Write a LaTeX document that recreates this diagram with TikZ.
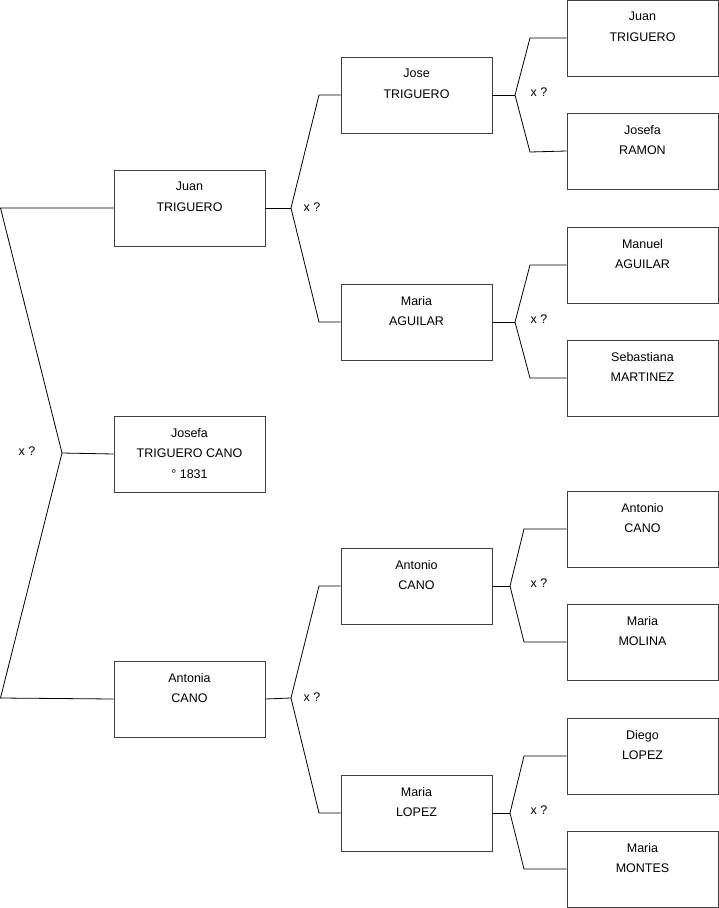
\documentclass[tikz,border=0pt]{standalone}
\usepackage{fontspec}
\setmainfont{Liberation Sans}
\begin{document}
\begin{tikzpicture}[x=1pt,y=-1pt,
  person/.style={draw=black!75,line width=0.9pt,rectangle,minimum width=151pt,minimum height=76pt,inner sep=0pt,
    label={[anchor=north,align=center,yshift=-12.5pt,inner sep=0pt,font=\fontsize{12.5}{20.5}\selectfont]north:#1}},
  conn/.style={draw=black,line width=0.8pt},
  xq/.style={font=\fontsize{12.5}{15}\selectfont,inner sep=0pt}]
\useasboundingbox (0,0) rectangle (719,908);
% column 1
\node[person={Juan\\TRIGUERO}] (c1a) at (189.5,208) {};
\node[person={Josefa\\TRIGUERO CANO\\° 1831}] (c1b) at (189.5,454) {};
\node[person={Antonia\\CANO}] (c1c) at (189.5,699) {};
% column 2
\node[person={Jose\\TRIGUERO}] (c2a) at (416.5,95) {};
\node[person={Maria\\AGUILAR}] (c2b) at (416.5,322) {};
\node[person={Antonio\\CANO}] (c2c) at (416.5,586) {};
\node[person={Maria\\LOPEZ}] (c2d) at (416.5,813) {};
% column 3
\node[person={Juan\\TRIGUERO}] (c3a) at (642.5,38) {};
\node[person={Josefa\\RAMON}] (c3b) at (642.5,151) {};
\node[person={Manuel\\AGUILAR}] (c3c) at (642.5,265) {};
\node[person={Sebastiana\\MARTINEZ}] (c3d) at (642.5,378) {};
\node[person={Antonio\\CANO}] (c3e) at (642.5,529) {};
\node[person={Maria\\MOLINA}] (c3f) at (642.5,642) {};
\node[person={Diego\\LOPEZ}] (c3g) at (642.5,756) {};
\node[person={Maria\\MONTES}] (c3h) at (642.5,869) {};
% fork coordinates
\coordinate (l1) at (0.5,208);
\coordinate (l2) at (62,453);
\coordinate (l3) at (0.5,698);
\coordinate (fa) at (291,208);
\coordinate (fa1) at (319,95);
\coordinate (fa2) at (319,322);
\coordinate (fc) at (291,698);
\coordinate (fc1) at (319,586);
\coordinate (fc2) at (319,813);
\coordinate (g1) at (515,95);
\coordinate (g11) at (530,38);
\coordinate (g12) at (530,152);
\coordinate (g2) at (515,322);
\coordinate (g21) at (530,265);
\coordinate (g22) at (530,378);
\coordinate (g3) at (510,586);
\coordinate (g31) at (524,529);
\coordinate (g32) at (524,642);
\coordinate (g4) at (510,813);
\coordinate (g41) at (524,756);
\coordinate (g42) at (524,869);
% connectors
\draw[conn] (c1a.west) -- (l1) -- (l2) -- (l3) -- (c1c.west);
\draw[conn] (l2) -- (c1b.west);
\draw[conn] (c1a.east) -- (fa);
\draw[conn] (c2a.west) -- (fa1) -- (fa) -- (fa2) -- (c2b.west);
\draw[conn] (c1c.east) -- (fc);
\draw[conn] (c2c.west) -- (fc1) -- (fc) -- (fc2) -- (c2d.west);
\draw[conn] (c2a.east) -- (g1);
\draw[conn] (c3a.west) -- (g11) -- (g1) -- (g12) -- (c3b.west);
\draw[conn] (c2b.east) -- (g2);
\draw[conn] (c3c.west) -- (g21) -- (g2) -- (g22) -- (c3d.west);
\draw[conn] (c2c.east) -- (g3);
\draw[conn] (c3e.west) -- (g31) -- (g3) -- (g32) -- (c3f.west);
\draw[conn] (c2d.east) -- (g4);
\draw[conn] (c3g.west) -- (g41) -- (g4) -- (g42) -- (c3h.west);
% labels
\node[xq] (q1) at (27,451) {x ?};
\node[xq] (q2) at (312,207) {x ?};
\node[xq] (q3) at (312,697) {x ?};
\node[xq] (q4) at (539,92) {x ?};
\node[xq] (q5) at (539,319) {x ?};
\node[xq] (q6) at (539,583) {x ?};
\node[xq] (q7) at (539,810) {x ?};
\end{tikzpicture}
\end{document}
